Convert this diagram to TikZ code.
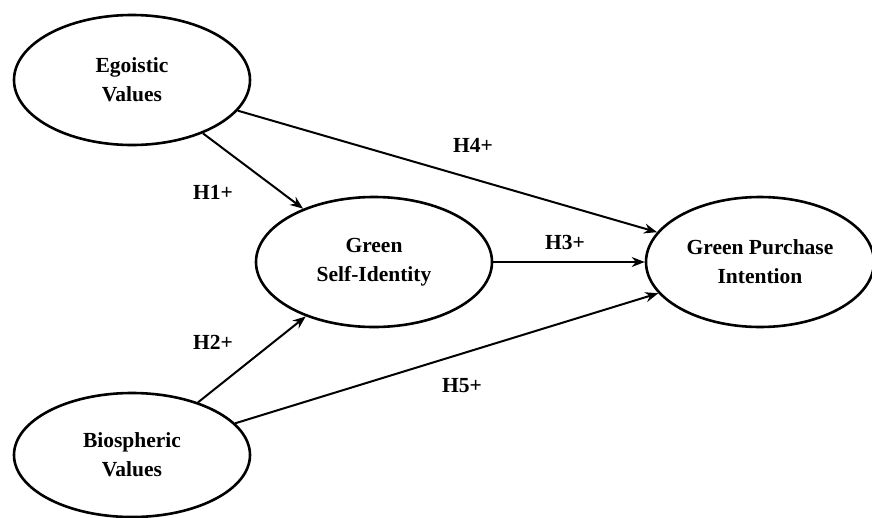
\documentclass[tikz,border=0pt]{standalone}
\usepackage{fontspec}
\setmainfont{Liberation Serif}
\usetikzlibrary{shapes.geometric,arrows.meta}
\begin{document}
\begin{tikzpicture}[x=1pt,y=-1pt,
  construct/.style={ellipse,draw,line width=2.6pt,minimum width=236pt,minimum height=130pt,inner sep=0pt,align=center,font=\fontsize{21.5}{29}\selectfont\bfseries},
  path/.style={line width=2pt,-{Stealth[length=13pt,width=10pt]}},
  hyp/.style={font=\fontsize{21.5}{24}\selectfont\bfseries}]
\useasboundingbox (0,0) rectangle (872,517);
\node[construct] (ego) at (132,80) {Egoistic\\Values};
\node[construct] (gsi) at (374,262) {Green\\Self-Identity};
\node[construct,minimum width=228pt] (gpi) at (760,262) {Green Purchase\\Intention};
\node[construct,minimum height=124pt] (bio) at (132,455) {Biospheric\\Values};
\draw[path] (ego) -- (gsi);
\draw[path] (ego) -- (gpi);
\draw[path] (gsi) -- (gpi);
\draw[path] (bio) -- (gsi);
\draw[path] (bio) -- (gpi);
\node[hyp] (h1) at (213,192) {H1+};
\node[hyp] (h2) at (213,342) {H2+};
\node[hyp] (h3) at (565,242) {H3+};
\node[hyp] (h4) at (473,145) {H4+};
\node[hyp] (h5) at (462,386) {H5+};
\end{tikzpicture}
\end{document}
